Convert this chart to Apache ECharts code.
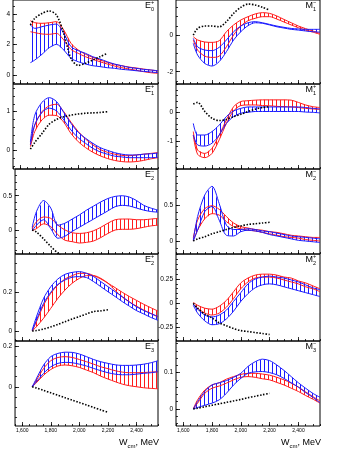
<!DOCTYPE html>
<html>
<head>
<meta charset="utf-8">
<script src="https://cdn.jsdelivr.net/npm/echarts@6/dist/echarts.min.js"></script>
<style>
  html, body { margin: 0; padding: 0; background: #fff; }
  #chart { width: 349px; height: 451px; }
</style>
</head>
<body>
<div id="chart"></div>
<script>
// energies (MeV) where the bands are read, and where the dotted curve is read
const wBand = [1670, 1700, 1750, 1800, 1850, 1900, 1950, 2000, 2050, 2100, 2150, 2200, 2250, 2300, 2350, 2400, 2450, 2500, 2550]
const wDots = [1670, 1700, 1750, 1800, 1850, 1900, 1950, 2000, 2050, 2100, 2150, 2200]
const wLabels = [1600, 1800, 2000, 2200, 2400]

// E0+
const e0pBlueLo = [0.81, 0.98, 1.36, 1.79, 2.01, 1.64, 1.09, 0.87, 0.72, 0.61, 0.55, 0.48, 0.44, 0.37, 0.33, 0.28, 0.24, 0.2, 0.15]
const e0pBlueHi = [3.28, 3.06, 3.17, 3.28, 3.34, 2.73, 1.86, 1.6, 1.42, 1.2, 1.05, 0.87, 0.72, 0.61, 0.5, 0.44, 0.37, 0.33, 0.28]
const e0pRedLo = [2.84, 2.78, 2.69, 2.67, 2.73, 2.3, 1.68, 1.42, 1.2, 1.03, 0.87, 0.72, 0.59, 0.48, 0.39, 0.31, 0.22, 0.15, 0.11]
const e0pRedHi = [3.56, 3.43, 3.39, 3.43, 3.5, 2.95, 2.08, 1.64, 1.36, 1.16, 0.98, 0.83, 0.7, 0.61, 0.52, 0.46, 0.39, 0.33, 0.26]
const e0pDots = [3.28, 3.72, 4.04, 4.2, 3.93, 2.73, 1.09, 0.63, 0.77, 0.98, 1.2, 1.42]
const e0pTicks = [0, 2, 4]

// M1-
const m1mBlueLo = [-0.45, -1.09, -1.55, -1.69, -1.45, -0.91, -0.27, 0.18, 0.51, 0.67, 0.64, 0.55, 0.45, 0.38, 0.31, 0.27, 0.22, 0.18, 0.16]
const m1mBlueHi = [-0.18, -0.64, -0.82, -0.85, -0.67, -0.27, 0.18, 0.49, 0.67, 0.73, 0.67, 0.58, 0.49, 0.42, 0.36, 0.33, 0.31, 0.31, 0.31]
const m1mRedLo = [-0.27, -0.82, -1.15, -1.22, -1.15, -0.64, 0, 0.49, 0.78, 0.91, 1.0, 1.0, 0.87, 0.71, 0.55, 0.4, 0.27, 0.16, 0.04]
const m1mRedHi = [-0.09, -0.27, -0.38, -0.4, -0.31, 0.18, 0.55, 0.82, 1.0, 1.15, 1.22, 1.18, 1.04, 0.85, 0.67, 0.49, 0.35, 0.22, 0.09]
const m1mDots = [0, 0.36, 0.49, 0.49, 0.45, 0.73, 1.18, 1.51, 1.69, 1.64, 1.51, 1.36]
const m1mTicks = [-2, 0]

// E1+
const e1pBlueLo = [0.15, 0.66, 0.98, 1.09, 1.02, 0.79, 0.53, 0.33, 0.19, 0.06, -0.03, -0.09, -0.14, -0.16, -0.18, -0.18, -0.18, -0.18, -0.17]
const e1pBlueHi = [0.23, 0.91, 1.24, 1.36, 1.26, 0.98, 0.7, 0.47, 0.32, 0.19, 0.08, 0.01, -0.05, -0.09, -0.11, -0.11, -0.09, -0.08, -0.06]
const e1pRedLo = [0.1, 0.49, 0.79, 0.91, 0.9, 0.73, 0.44, 0.23, 0.08, -0.04, -0.13, -0.2, -0.25, -0.28, -0.29, -0.28, -0.25, -0.21, -0.18]
const e1pRedHi = [0.16, 0.66, 1.0, 1.15, 1.19, 1.0, 0.73, 0.49, 0.3, 0.15, 0.03, -0.04, -0.09, -0.12, -0.13, -0.11, -0.09, -0.07, -0.05]
const e1pDots = [0.04, 0.21, 0.44, 0.68, 0.8, 0.87, 0.91, 0.94, 0.96, 0.97, 0.98, 1.0]
const e1pTicks = [0, 1]

// M1+
const m1pBlueLo = [-0.79, -1.14, -1.18, -1.08, -0.79, -0.38, -0.14, -0.02, 0.01, 0.04, 0.04, 0.04, 0.04, 0.04, 0.04, 0.04, 0.02, 0.01, -0.01]
const m1pBlueHi = [-0.38, -0.79, -0.79, -0.67, -0.44, -0.14, 0.06, 0.15, 0.2, 0.2, 0.2, 0.2, 0.2, 0.2, 0.2, 0.2, 0.18, 0.15, 0.13]
const m1pRedLo = [-0.79, -1.47, -1.59, -1.44, -0.96, -0.38, 0.06, 0.25, 0.27, 0.27, 0.25, 0.24, 0.22, 0.21, 0.2, 0.18, 0.15, 0.13, 0.11]
const m1pRedHi = [-0.67, -1.32, -1.44, -1.26, -0.79, -0.26, 0.21, 0.39, 0.42, 0.44, 0.45, 0.45, 0.45, 0.45, 0.44, 0.36, 0.27, 0.21, 0.18]
const m1pDots = [0.3, 0.36, 0.04, -0.2, -0.28, -0.24, -0.14, -0.06, 0.04, 0.12, 0.18, 0.21]
const m1pTicks = [-1, 0]

// E2-
const e2mBlueLo = [-0.01, 0.07, 0.15, 0.02, -0.12, -0.09, -0.02, 0.04, 0.1, 0.16, 0.22, 0.28, 0.34, 0.36, 0.35, 0.32, 0.29, 0.27, 0.26]
const e2mBlueHi = [0.04, 0.27, 0.43, 0.32, 0.07, 0.1, 0.16, 0.22, 0.29, 0.35, 0.41, 0.46, 0.49, 0.5, 0.48, 0.43, 0.36, 0.32, 0.29]
const e2mRedLo = [-0.01, 0.02, 0.09, 0.05, -0.07, -0.15, -0.17, -0.19, -0.18, -0.16, -0.11, -0.05, 0, 0.01, 0.01, 0.02, 0.04, 0.06, 0.07]
const e2mRedHi = [0.02, 0.12, 0.19, 0.17, 0.07, 0, -0.04, -0.05, -0.04, -0.01, 0.04, 0.1, 0.15, 0.16, 0.16, 0.15, 0.15, 0.16, 0.17]
const e2mDots = [0, -0.03, -0.13, -0.24, -0.34, -0.44, null, null, null, null, null, null]
const e2mTicks = [0, 0.5]

// M2-
const m2mBlueLo = [0, 0.15, 0.41, 0.48, 0.29, 0.08, 0.07, 0.13, 0.15, 0.14, 0.12, 0.09, 0.07, 0.05, 0.03, 0.01, 0, -0.01, -0.02]
const m2mBlueHi = [0.01, 0.34, 0.64, 0.76, 0.52, 0.22, 0.16, 0.16, 0.17, 0.16, 0.14, 0.13, 0.11, 0.09, 0.07, 0.06, 0.05, 0.04, 0.03]
const m2mRedLo = [0.01, 0.15, 0.31, 0.38, 0.36, 0.27, 0.2, 0.17, 0.15, 0.14, 0.12, 0.1, 0.08, 0.06, 0.05, 0.04, 0.02, 0.01, 0]
const m2mRedHi = [0.04, 0.29, 0.45, 0.49, 0.44, 0.34, 0.25, 0.2, 0.18, 0.16, 0.15, 0.13, 0.12, 0.1, 0.08, 0.07, 0.06, 0.05, 0.05]
const m2mDots = [0, 0.03, 0.06, 0.1, 0.13, 0.16, 0.19, 0.21, 0.23, 0.24, 0.25, 0.26]
const m2mTicks = [0, 0.5]

// E2+
const e2pBlueLo = [0, 0.057, 0.143, 0.2, 0.241, 0.264, 0.278, 0.281, 0.276, 0.255, 0.229, 0.203, 0.178, 0.152, 0.128, 0.105, 0.088, 0.07, 0.055]
const e2pBlueHi = [0.005, 0.074, 0.169, 0.229, 0.269, 0.293, 0.303, 0.307, 0.298, 0.281, 0.255, 0.229, 0.203, 0.178, 0.15, 0.125, 0.106, 0.09, 0.075]
const e2pRedLo = [0, 0.022, 0.066, 0.117, 0.169, 0.212, 0.247, 0.272, 0.286, 0.286, 0.272, 0.247, 0.21, 0.175, 0.15, 0.128, 0.108, 0.09, 0.072]
const e2pRedHi = [0, 0.048, 0.134, 0.195, 0.238, 0.269, 0.286, 0.298, 0.298, 0.286, 0.269, 0.247, 0.224, 0.2, 0.178, 0.158, 0.138, 0.12, 0.103]
const e2pDots = [0, 0.002, 0.01, 0.021, 0.034, 0.048, 0.062, 0.074, 0.088, 0.1, 0.104, 0.11]
const e2pTicks = [0, 0.2]

// M2+
const m2pBlueLo = [-0.02, -0.1, -0.18, -0.22, -0.21, -0.16, -0.08, 0.02, 0.1, 0.16, 0.19, 0.2, 0.19, 0.17, 0.15, 0.13, 0.11, 0.09, 0.07]
const m2pBlueHi = [-0.01, -0.06, -0.12, -0.14, -0.12, -0.07, 0.02, 0.11, 0.2, 0.25, 0.27, 0.28, 0.27, 0.26, 0.24, 0.22, 0.19, 0.16, 0.14]
const m2pRedLo = [-0.01, -0.05, -0.1, -0.12, -0.1, -0.04, 0.05, 0.15, 0.22, 0.26, 0.27, 0.27, 0.26, 0.24, 0.22, 0.2, 0.17, 0.15, 0.12]
const m2pRedHi = [0.01, -0.02, -0.05, -0.06, -0.03, 0.03, 0.12, 0.21, 0.26, 0.29, 0.3, 0.3, 0.29, 0.27, 0.26, 0.23, 0.21, 0.18, 0.15]
const m2pDots = [0, -0.05, -0.11, -0.15, -0.2, -0.23, -0.26, -0.28, -0.29, -0.3, -0.31, -0.32]
const m2pTicks = [-0.25, 0, 0.25]

// E3-
const e3mBlueLo = [0, 0.025, 0.066, 0.098, 0.115, 0.12, 0.118, 0.111, 0.102, 0.09, 0.079, 0.069, 0.062, 0.059, 0.059, 0.062, 0.066, 0.069, 0.074]
const e3mBlueHi = [0, 0.041, 0.107, 0.148, 0.164, 0.17, 0.169, 0.161, 0.148, 0.134, 0.123, 0.115, 0.108, 0.105, 0.105, 0.107, 0.111, 0.118, 0.128]
const e3mRedLo = [0, 0.02, 0.057, 0.085, 0.102, 0.107, 0.103, 0.095, 0.082, 0.069, 0.052, 0.038, 0.025, 0.013, 0.005, 0, -0.005, -0.008, -0.01]
const e3mRedHi = [0, 0.033, 0.09, 0.128, 0.144, 0.148, 0.144, 0.134, 0.123, 0.111, 0.098, 0.089, 0.079, 0.072, 0.069, 0.069, 0.07, 0.072, 0.074]
const e3mDots = [0, -0.006, -0.018, -0.03, -0.042, -0.054, -0.066, -0.078, -0.09, -0.102, -0.114, -0.126]
const e3mTicks = [0, 0.2]

// M3-
const m3mBlueLo = [0, 0.004, 0.01, 0.016, 0.025, 0.043, 0.066, 0.084, 0.098, 0.102, 0.103, 0.1, 0.094, 0.084, 0.072, 0.06, 0.045, 0.032, 0.017]
const m3mBlueHi = [0, 0.02, 0.048, 0.066, 0.072, 0.078, 0.087, 0.098, 0.117, 0.13, 0.137, 0.133, 0.121, 0.106, 0.089, 0.072, 0.057, 0.043, 0.032]
const m3mRedLo = [0, 0.016, 0.043, 0.057, 0.063, 0.071, 0.08, 0.087, 0.089, 0.087, 0.083, 0.08, 0.073, 0.066, 0.057, 0.048, 0.037, 0.027, 0.016]
const m3mRedHi = [0, 0.025, 0.052, 0.066, 0.072, 0.082, 0.089, 0.095, 0.098, 0.098, 0.096, 0.093, 0.087, 0.08, 0.071, 0.06, 0.047, 0.034, 0.022]
const m3mDots = [0, 0.002, 0.006, 0.01, 0.014, 0.018, 0.022, 0.026, 0.031, 0.035, 0.039, 0.043]
const m3mTicks = [0, 0.1]

const panels = [
  { letter: 'E', sub: '0', sup: '+', min: -0.59, max: 4.92, minor: 0.5, ticks: e0pTicks, blue: [e0pBlueLo, e0pBlueHi], red: [e0pRedLo, e0pRedHi], dots: e0pDots },
  { letter: 'M', sub: '1', sup: '\u2212', min: -2.67, max: 1.91, minor: 0.5, ticks: m1mTicks, blue: [m1mBlueLo, m1mBlueHi], red: [m1mRedLo, m1mRedHi], dots: m1mDots },
  { letter: 'E', sub: '1', sup: '+', min: -0.47, max: 1.71, minor: 0.2, ticks: e1pTicks, blue: [e1pBlueLo, e1pBlueHi], red: [e1pRedLo, e1pRedHi], dots: e1pDots },
  { letter: 'M', sub: '1', sup: '+', min: -1.99, max: 1.01, minor: 0.2, ticks: m1pTicks, blue: [m1pBlueLo, m1pBlueHi], red: [m1pRedLo, m1pRedHi], dots: m1pDots },
  { letter: 'E', sub: '2', sup: '\u2212', min: -0.35, max: 0.89, minor: 0.1, ticks: e2mTicks, blue: [e2mBlueLo, e2mBlueHi], red: [e2mRedLo, e2mRedHi], dots: e2mDots },
  { letter: 'M', sub: '2', sup: '\u2212', min: -0.18, max: 1.0, minor: 0.1, ticks: m2mTicks, blue: [m2mBlueLo, m2mBlueHi], red: [m2mRedLo, m2mRedHi], dots: m2mDots },
  { letter: 'E', sub: '2', sup: '+', min: -0.052, max: 0.398, minor: 0.05, ticks: e2pTicks, blue: [e2pBlueLo, e2pBlueHi], red: [e2pRedLo, e2pRedHi], dots: e2pDots },
  { letter: 'M', sub: '2', sup: '+', min: -0.387, max: 0.507, minor: 0.05, ticks: m2pTicks, blue: [m2pBlueLo, m2pBlueHi], red: [m2pRedLo, m2pRedHi], dots: m2pDots },
  { letter: 'E', sub: '3', sup: '\u2212', min: -0.193, max: 0.225, minor: 0.05, ticks: e3mTicks, blue: [e3mBlueLo, e3mBlueHi], red: [e3mRedLo, e3mRedHi], dots: e3mDots },
  { letter: 'M', sub: '3', sup: '\u2212', min: -0.047, max: 0.187, minor: 0.02, ticks: m3mTicks, blue: [m3mBlueLo, m3mBlueHi], red: [m3mRedLo, m3mRedHi], dots: m3mDots }
]

const colLeft = [13, 176]
const colWidth = [145, 144]
const rowTop = [0, 84, 169, 254, 341]
const rowHeight = [84, 85, 85, 87, 85]

const FONT = 'Liberation Sans, Arial, sans-serif'
const BLUE = '#1a1aff'
const RED = '#ff1a1a'

function makeHatch(color) {
  const c = document.createElement('canvas')
  c.width = 4
  c.height = 4
  const ctx = c.getContext('2d')
  ctx.fillStyle = color
  ctx.fillRect(0, 0, 1, 4)
  return { image: c, repeat: 'repeat' }
}

function stepTicks(min, max, step) {
  const out = []
  for (let v = Math.ceil(min / step - 1e-9) * step; v <= max + 1e-9; v += step) {
    out.push(Math.round(v * 10000) / 10000)
  }
  return out
}

function zip(xs, ys) {
  return xs.map((x, i) => [x, ys[i]])
}

const blueHatch = makeHatch(BLUE)
const redHatch = makeHatch(RED)

const grids = []
const xAxes = []
const yAxes = []
const series = []
const graphics = []
const n = panels.length

const xMinor = stepTicks(1550, 2550, 50)

function bandSeries(i, lo, hi, hatch) {
  return {
    type: 'custom',
    xAxisIndex: i,
    yAxisIndex: i,
    silent: true,
    data: [[wBand[0], lo[0]]],
    renderItem: function (params, api) {
      const pts = []
      for (let k = 0; k < wBand.length; k++) pts.push(api.coord([wBand[k], hi[k]]))
      for (let k = wBand.length - 1; k >= 0; k--) pts.push(api.coord([wBand[k], lo[k]]))
      const cs = params.coordSys
      return {
        type: 'polygon',
        shape: { points: pts },
        style: { fill: hatch, stroke: null },
        clipPath: { type: 'rect', shape: { x: cs.x, y: cs.y, width: cs.width, height: cs.height } }
      }
    }
  }
}

function edgeSeries(i, ys, color) {
  return {
    type: 'line',
    xAxisIndex: i,
    yAxisIndex: i,
    data: zip(wBand, ys),
    smooth: 0.3,
    symbol: 'none',
    silent: true,
    lineStyle: { color: color, width: 1 }
  }
}

panels.forEach((p, i) => {
  const col = i % 2
  const row = Math.floor(i / 2)
  const left = colLeft[col]
  const top = rowTop[row]
  const w = colWidth[col]
  const h = rowHeight[row]
  grids.push({ left: left, top: top, width: w, height: h, show: true, borderColor: '#000', borderWidth: 1, backgroundColor: 'transparent' })

  // minor x ticks + labels
  xAxes[i] = {
    gridIndex: i, type: 'value', min: 1550, max: 2550, position: 'bottom',
    axisLine: { show: false, onZero: false }, splitLine: { show: false },
    axisTick: { show: true, inside: true, length: 2, customValues: xMinor, lineStyle: { color: '#000', width: 0.8 } },
    axisLabel: { show: row === 4, customValues: wLabels, fontSize: 5, margin: 2, color: '#000', fontFamily: FONT }
  }
  // major x ticks
  xAxes[n + i] = {
    gridIndex: i, type: 'value', min: 1550, max: 2550, position: 'bottom',
    axisLine: { show: false, onZero: false }, splitLine: { show: false },
    axisTick: { show: true, inside: true, length: 4, customValues: wLabels, lineStyle: { color: '#000', width: 0.8 } },
    axisLabel: { show: false }
  }
  yAxes[i] = {
    gridIndex: i, type: 'value', min: p.min, max: p.max, position: 'left',
    axisLine: { show: false, onZero: false }, splitLine: { show: false },
    axisTick: { show: true, inside: true, length: 2, customValues: stepTicks(p.min, p.max, p.minor), lineStyle: { color: '#000', width: 0.8 } },
    axisLabel: { show: true, customValues: p.ticks, fontSize: 6.5, margin: 3, color: '#000', fontFamily: FONT }
  }
  yAxes[n + i] = {
    gridIndex: i, type: 'value', min: p.min, max: p.max, position: 'left',
    axisLine: { show: false, onZero: false }, splitLine: { show: false },
    axisTick: { show: true, inside: true, length: 4, customValues: p.ticks, lineStyle: { color: '#000', width: 0.8 } },
    axisLabel: { show: false }
  }

  series.push(bandSeries(i, p.red[0], p.red[1], redHatch))
  series.push(edgeSeries(i, p.red[0], RED))
  series.push(edgeSeries(i, p.red[1], RED))
  series.push(bandSeries(i, p.blue[0], p.blue[1], blueHatch))
  series.push(edgeSeries(i, p.blue[0], BLUE))
  series.push(edgeSeries(i, p.blue[1], BLUE))
  series.push({
    type: 'line',
    xAxisIndex: i,
    yAxisIndex: i,
    data: zip(wDots, p.dots),
    smooth: 0.3,
    symbol: 'none',
    silent: true,
    lineStyle: { color: '#000', width: 1.6, type: [1.5, 1.6] }
  })

  // panel label, e.g. E with sub 0 and sup +
  const right = left + w - 3
  const letterW = p.letter === 'M' ? 7.5 : 6
  graphics.push({ type: 'text', x: right - 4 - letterW, y: top + 1, style: { text: p.letter, fontSize: 9, fontFamily: FONT, fill: '#000', verticalAlign: 'top' } })
  graphics.push({ type: 'text', x: right - 4, y: top - 0.5, style: { text: p.sup, fontSize: 5.5, fontFamily: FONT, fill: '#000', verticalAlign: 'top' } })
  graphics.push({ type: 'text', x: right - 4, y: top + 6, style: { text: p.sub, fontSize: 5.5, fontFamily: FONT, fill: '#000', verticalAlign: 'top' } })
})

// axis titles under each column
;[0, 1].forEach(col => {
  graphics.push({
    type: 'text',
    x: colLeft[col] + colWidth[col] + 1,
    y: 443,
    style: {
      text: 'W{s|cm}, MeV',
      fontSize: 9,
      fontFamily: FONT,
      fill: '#000',
      align: 'right',
      verticalAlign: 'middle',
      rich: { s: { fontSize: 6, fontFamily: FONT, fill: '#000', padding: [6, 0, 0, 0] } }
    }
  })
})

const chart = echarts.init(document.getElementById('chart'))
chart.setOption({
  animation: false,
  grid: grids,
  xAxis: xAxes,
  yAxis: yAxes,
  series: series,
  graphic: graphics
})
</script>
</body>
</html>
